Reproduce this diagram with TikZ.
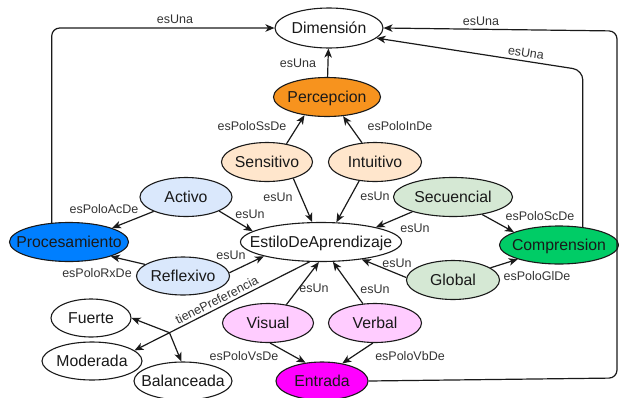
\documentclass[tikz,border=0pt]{standalone}
\usepackage{fontspec}
\setmainfont{Liberation Sans}
\usetikzlibrary{shapes.geometric,arrows.meta,calc}
\definecolor{cOr}{HTML}{F7931E}
\definecolor{cPeach}{HTML}{FFE6CC}
\definecolor{cLBlue}{HTML}{DAE8FC}
\definecolor{cLGreen}{HTML}{D5E8D4}
\definecolor{cPink}{HTML}{FFCCFF}
\definecolor{cBlue}{HTML}{007FFF}
\definecolor{cGreen}{HTML}{00CC66}
\definecolor{cMag}{HTML}{FF00FF}
\definecolor{cLine}{HTML}{1A1A1A}
\definecolor{cLab}{HTML}{333333}
\newcommand\zb[1]{\makebox[0pt]{\vphantom{Ág}#1}}
\begin{document}
\begin{tikzpicture}[x=1pt,y=-1pt,
  el/.style={ellipse,draw=cLine,line width=1.1pt,inner sep=0pt,fill=white,
    font=\fontsize{15.8}{18}\selectfont,text=black!90},
  arr/.style={draw=cLine,line width=1.2pt,-{Stealth[length=9pt,width=7.5pt,inset=2.5pt]}},
  lab/.style={font=\fontsize{12.5}{15}\selectfont,text=cLab,inner sep=0pt},
]
\useasboundingbox (0,0) rectangle (619,397);

% nodes
\node[el,minimum width=108pt,minimum height=40pt] (dim) at (329,28) {\zb{Dimensión}};
\node[el,fill=cOr,minimum width=107pt,minimum height=39pt] (perc) at (327,97) {\zb{Percepcion}};
\node[el,fill=cPeach,minimum width=91pt,minimum height=39pt] (sens) at (267,162) {\zb{Sensitivo}};
\node[el,fill=cPeach,minimum width=93pt,minimum height=39pt] (intu) at (375,162) {\zb{Intuitivo}};
\node[el,fill=cLBlue,minimum width=92pt,minimum height=39pt] (act) at (186,197) {\zb{Activo}};
\node[el,fill=cLGreen,minimum width=119pt,minimum height=39pt] (sec) at (453,197) {\zb{Secuencial}};
\node[el,minimum width=161pt,minimum height=39pt] (estilo) at (321,242) {\zb{EstiloDeAprendizaje}};
\node[el,fill=cBlue,minimum width=119pt,minimum height=39pt] (proc) at (69,242) {\zb{Procesamiento}};
\node[el,fill=cGreen,minimum width=119pt,minimum height=38pt] (comp) at (559,245) {\zb{Comprension}};
\node[el,fill=cLBlue,minimum width=93pt,minimum height=38pt] (refl) at (183,276) {\zb{Reflexivo}};
\node[el,fill=cLGreen,minimum width=93pt,minimum height=39pt] (glob) at (453,280) {\zb{Global}};
\node[el,minimum width=80pt,minimum height=38pt] (fue) at (91,318) {\zb{Fuerte}};
\node[el,fill=cPink,minimum width=91pt,minimum height=39pt] (vis) at (268,323) {\zb{Visual}};
\node[el,fill=cPink,minimum width=93pt,minimum height=39pt] (verb) at (375,323) {\zb{Verbal}};
\node[el,minimum width=100pt,minimum height=38pt] (mod) at (92,361) {\zb{Moderada}};
\node[el,minimum width=98pt,minimum height=38pt] (bal) at (183,381) {\zb{Balanceada}};
\node[el,fill=cMag,minimum width=92pt,minimum height=38pt] (ent) at (322,381) {\zb{Entrada}};

% helper coordinates
\coordinate (kC) at ($(comp.37)+(0,-157)$);
\coordinate (kE1) at (617,378);
\coordinate (kE2) at (617,31);

% connectors
\draw[arr] (perc) -- (dim) node[lab] at (298,63) {esUna};
\draw[arr,rounded corners=8pt] (proc.132) |- (dim.west) node[lab] at (175,19) {esUna};
\draw[arr,rounded corners=10pt] (comp.37) -- (kC) -- (dim.-12)
  node[lab,rotate=-8.5] at (526,53) {esUna};
\draw[arr,rounded corners=8pt] (ent.east) -- (kE1) -- (kE2) -- (dim.east)
  node[lab] at (481,21) {esUna};

\draw[arr] (sens.43) -- (perc.219) node[lab] at (252,126) {esPoloSsDe};
\draw[arr] (intu.124) -- (perc.310) node[lab] at (400,126) {esPoloInDe};
\draw[arr] (sens.-32) -- (estilo.114) node[lab] at (278,197) {esUn};
\draw[arr] (intu.230) -- (estilo.52) node[lab] at (375,196) {esUn};
\draw[arr] (act.204) -- (proc.18) node[lab] at (104,209) {esPoloAcDe};
\draw[arr] (act.-23) -- (estilo.171) node[lab] at (250,214) {esUn};
\draw[arr] (refl.163) -- (proc.-19) node[lab] at (97,273) {esPoloRxDe};
\draw[arr] (refl.4) -- (estilo.194) node[lab] at (231,255) {esUn};
\draw[arr] (sec.200) -- (estilo.15) node[lab] at (415,228) {esUn};
\draw[arr] (sec.-31) -- (comp.164) node[lab] at (540,216) {esPoloScDe};
\draw[arr] (glob.177) -- (estilo.-23) node[lab] at (397,263) {esUn};
\draw[arr] (glob.18) -- (comp.199) node[lab] at (537,276) {esPoloGlDe};
\draw[arr] (vis.45) -- (estilo.264) node[lab] at (314,288) {esUn};
\draw[arr] (verb.122) -- (estilo.301) node[lab] at (375,289) {esUn};
\draw[arr] (vis.276) -- (ent.132) node[lab] at (244,356) {esPoloVsDe};
\draw[arr] (verb.264) -- (ent.41) node[lab] at (410,356) {esPoloVbDe};

\draw[arr] (estilo.240) -- (mod.14) coordinate[pos=.8] (kJ)
  node[lab,pos=.51,sloped,above,inner sep=2.5pt] {tienePreferencia};
\draw[arr] (kJ) -- (fue.east);
\draw[arr] (kJ) -- (bal.95);
\end{tikzpicture}
\end{document}
